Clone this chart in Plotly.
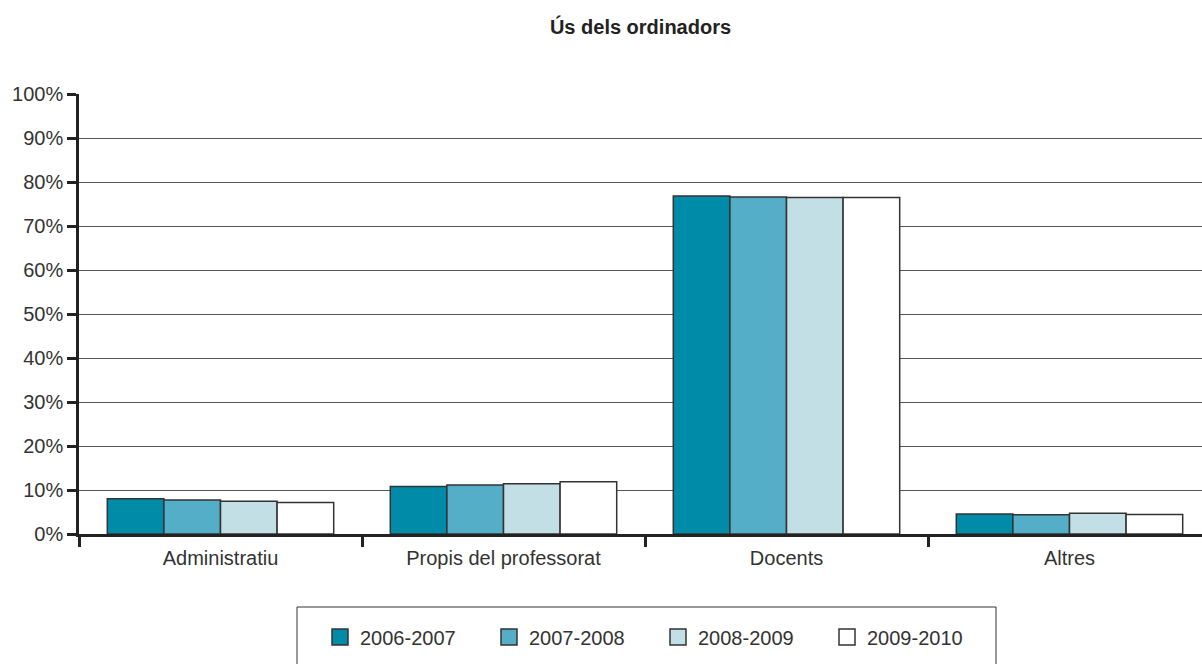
import plotly.graph_objects as go

categories = ["Administratiu", "Propis del professorat", "Docents", "Altres"]
series_names = ["2006-2007", "2007-2008", "2008-2009", "2009-2010"]
v_2006_2007 = [8.0, 10.8, 76.8, 4.55]
v_2007_2008 = [7.7, 11.15, 76.6, 4.4]
v_2008_2009 = [7.45, 11.4, 76.5, 4.7]
v_2009_2010 = [7.15, 11.85, 76.45, 4.45]
series_values = [v_2006_2007, v_2007_2008, v_2008_2009, v_2009_2010]
colors = ["#008CA8", "#55AEC7", "#C2DFE6", "#FFFFFF"]
y_ticks = list(range(0, 101, 10))
y_tick_labels = [f"{t}%" for t in y_ticks]

FONT = "Liberation Sans, Arial, Helvetica, sans-serif"

fig = go.Figure()
for name, vals, col in zip(series_names, series_values, colors):
    fig.add_trace(go.Bar(
        x=categories, y=vals, name=name, showlegend=False,
        marker=dict(color=col, line=dict(color="#333333", width=1.5)),
    ))
# legend entries (square swatches)
for name, col in zip(series_names, colors):
    fig.add_trace(go.Scatter(
        x=[None], y=[None], name=name, mode="markers",
        marker=dict(symbol="square", size=16, color=col,
                    line=dict(color="#333333", width=1.5)),
    ))

W, H = 1202, 664
ml, mr, mt, mb = 79, 0, 94, 130
pw, ph = W - ml - mr, H - mt - mb
cat_w = 283.0
x_hi = -0.5 + pw / cat_w

def px_x(p):
    return (p - ml) / pw

def px_y(p):
    return (H - mb - p) / ph

fig.update_layout(
    width=W, height=H,
    margin=dict(l=ml, r=mr, t=mt, b=mb, autoexpand=False),
    paper_bgcolor="white", plot_bgcolor="white",
    font=dict(family=FONT, color="#333333", size=20),
    title=dict(text="<b>Ús dels ordinadors</b>", x=0.5, xref="paper", xanchor="center",
               y=1 - 27 / H, yanchor="middle",
               font=dict(size=20, color="#222222", family=FONT)),
    barmode="group", bargap=0.2, bargroupgap=0,
    showlegend=True,
    legend=dict(orientation="h", x=px_x(320), xanchor="left",
                y=px_y(637), yanchor="middle",
                entrywidth=124, entrywidthmode="pixels",
                font=dict(size=20, color="#333333", family=FONT),
                bgcolor="rgba(0,0,0,0)", borderwidth=0,
                itemsizing="trace"),
    xaxis=dict(type="category", range=[-0.5, x_hi], tickson="boundaries",
               ticks="outside", ticklen=10, tickwidth=2.5, tickcolor="#222222",
               showline=True, linewidth=2.5, linecolor="#222222",
               showgrid=False, zeroline=False, automargin=False,
               ticklabelstandoff=4,
               tickfont=dict(size=20, color="#333333")),
    yaxis=dict(range=[0, 100], tickvals=y_ticks, ticktext=y_tick_labels,
               ticks="outside", ticklen=9, tickwidth=2.5, tickcolor="#222222",
               showline=True, linewidth=2.5, linecolor="#222222",
               showgrid=True, gridcolor="#555555", gridwidth=1,
               zeroline=False, automargin=False,
               tickfont=dict(size=20, color="#333333")),
    shapes=[dict(type="rect", xref="paper", yref="paper",
                 x0=px_x(297), x1=px_x(996), y0=px_y(670), y1=px_y(607),
                 line=dict(color="#333333", width=1), fillcolor="rgba(0,0,0,0)",
                 layer="above")],
)

fig.write_html("out.html",
               config={"displayModeBar": False},
               post_script="document.body.style.margin='0px';document.body.style.overflow='hidden';")
